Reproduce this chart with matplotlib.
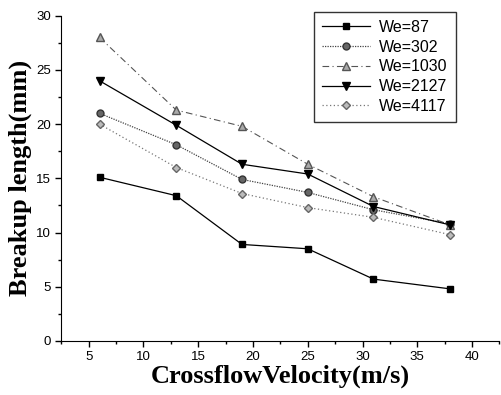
import numpy as np
import matplotlib.pyplot as plt
from matplotlib.ticker import MultipleLocator

velocity = [6, 13, 19, 25, 31, 38]
we_87 = [15.1, 13.4, 8.9, 8.5, 5.7, 4.8]
we_302 = [21.0, 18.1, 14.9, 13.7, 12.1, 10.8]
we_1030 = [28.0, 21.3, 19.8, 16.3, 13.3, 10.7]
we_2127 = [24.0, 19.9, 16.3, 15.4, 12.4, 10.7]
we_4117 = [20.0, 16.0, 13.6, 12.3, 11.4, 9.8]
labels = ["We=87", "We=302", "We=1030", "We=2127", "We=4117"]

fig = plt.figure(figsize=(5.02, 3.95), dpi=100)
ax = fig.add_axes([0.122, 0.137, 0.873, 0.823])

ax.plot(velocity, we_87, color="black", ls="-", lw=0.9, marker="s", ms=5, label=labels[0])
ax.plot(velocity, we_302, color="#444444", ls=(0, (1, 1)), lw=0.9, marker="o", ms=5,
        mfc="#666666", mec="#333333", label=labels[1])
ax.plot(velocity, we_1030, color="#555555", ls=(0, (6, 3, 1, 3)), lw=0.8, marker="^", ms=5.5,
        mfc="#aaaaaa", mec="#555555", label=labels[2])
ax.plot(velocity, we_2127, color="black", ls="-", lw=0.9, marker="v", ms=6, label=labels[3])
ax.plot(velocity, we_4117, color="#777777", ls=(0, (1, 2)), lw=0.9, marker="D", ms=4.5,
        mfc="#bbbbbb", mec="#666666", label=labels[4])

ax.set_xlim(2.5, 42.5)
ax.set_ylim(0, 30)
ax.xaxis.set_major_locator(MultipleLocator(5))
ax.xaxis.set_minor_locator(MultipleLocator(2.5))
ax.yaxis.set_major_locator(MultipleLocator(5))
ax.yaxis.set_minor_locator(MultipleLocator(2.5))
ax.set_xticks([5, 10, 15, 20, 25, 30, 35, 40])
ax.spines["top"].set_visible(False)
ax.spines["right"].set_visible(False)
ax.tick_params(which="both", direction="out", width=1, labelsize=9.5)
ax.tick_params(which="major", length=4)
ax.tick_params(which="minor", length=2.5)
for t in ax.get_xticklabels() + ax.get_yticklabels():
    t.set_family("Liberation Sans")

ax.set_xlabel("CrossflowVelocity(m/s)", family="Liberation Serif", weight="bold", fontsize=19, labelpad=1)
ax.set_ylabel("Breakup length(mm)", family="Liberation Serif", weight="bold", fontsize=19, labelpad=3)

leg = ax.legend(loc="upper right", bbox_to_anchor=(0.908, 0.970), bbox_transform=fig.transFigure,
                borderaxespad=0, frameon=True, fancybox=False,
                edgecolor="black", prop={"family": "Liberation Sans", "size": 11.5},
                handlelength=3, labelspacing=0.3, borderpad=0.5, handletextpad=0.6)
leg.get_frame().set_linewidth(1)

fig.savefig("out.png", dpi=100)
